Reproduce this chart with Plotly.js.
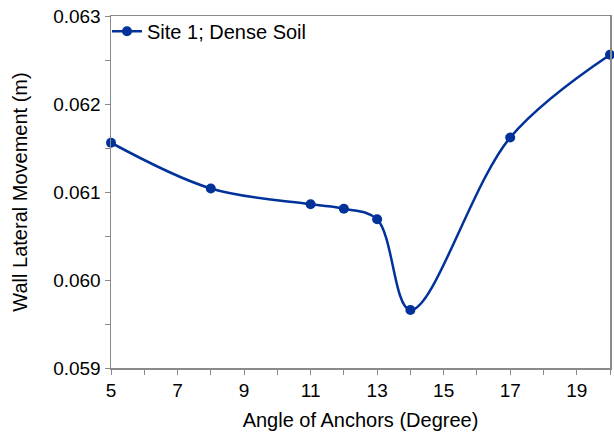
<!DOCTYPE html>
<html>
<head>
<meta charset="utf-8">
<script src="https://cdn.plot.ly/plotly-3.0.1.min.js"></script>
<style>
  html, body { margin: 0; padding: 0; background: #fff; }
  #chart { width: 614px; height: 435px; }
</style>
</head>
<body>
<div id="chart"></div>
<script>
// Anchor angle (degrees) and resulting wall lateral movement (m)
const anchorAngles = [5, 8, 11, 12, 13, 14, 17, 20];
const wallMovement = [0.06156, 0.06104, 0.06086, 0.06081, 0.06069, 0.05966, 0.06162, 0.06256];
const seriesName = 'Site 1; Dense Soil';

const axisGrey = '#8a8a8a';
const family = 'Arial, "Liberation Sans", sans-serif';
const tickFont = { family: family, size: 19, color: '#000' };
const textFont = { family: family, size: 20, color: '#000' };

const trace = {
  x: anchorAngles,
  y: wallMovement,
  name: seriesName,
  type: 'scatter',
  mode: 'lines+markers',
  line: { color: '#00329a', width: 2.5, shape: 'spline', smoothing: 1 },
  marker: { color: '#00329a', size: 10 },
  cliponaxis: false
};

const layout = {
  width: 614,
  height: 435,
  margin: { l: 111, r: 4, t: 16, b: 67 },
  paper_bgcolor: '#fff',
  plot_bgcolor: '#fff',
  font: textFont,
  showlegend: true,
  legend: {
    x: -0.008, y: 1.012, xanchor: 'left', yanchor: 'top',
    bgcolor: 'rgba(0,0,0,0)', font: textFont, itemwidth: 30
  },
  xaxis: {
    range: [5, 20],
    tick0: 5, dtick: 2,
    ticks: 'outside', ticklen: 5, tickcolor: axisGrey,
    minor: { dtick: 1, ticks: 'outside', ticklen: 5, tickcolor: axisGrey, showgrid: false },
    showgrid: false, zeroline: false,
    showline: true, linecolor: axisGrey, linewidth: 1.5, mirror: true,
    tickfont: tickFont,
    title: { text: 'Angle of Anchors (Degree)', font: textFont, standoff: 12 }
  },
  yaxis: {
    range: [0.059, 0.063],
    tick0: 0.059, dtick: 0.001, tickformat: '.3f',
    ticks: 'outside', ticklen: 5, tickcolor: axisGrey,
    minor: { dtick: 0.0005, ticks: 'outside', ticklen: 5, tickcolor: axisGrey, showgrid: false },
    showgrid: false, zeroline: false,
    showline: true, linecolor: axisGrey, linewidth: 1.5, mirror: true,
    tickfont: tickFont,
    title: { text: 'Wall Lateral Movement (m)', font: textFont, standoff: 20 }
  }
};

Plotly.newPlot('chart', [trace], layout, { displayModeBar: false, staticPlot: true });
</script>
</body>
</html>
